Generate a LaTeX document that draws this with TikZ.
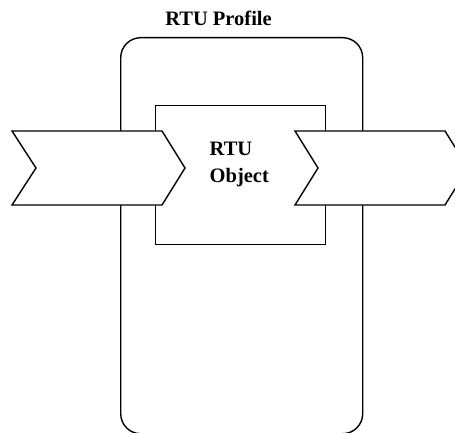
\documentclass[tikz,border=0pt]{standalone}
\usepackage{fontspec}
\setmainfont{Liberation Serif}
\usetikzlibrary{calc}
\definecolor{ink}{HTML}{000000}

\begin{document}
\begin{tikzpicture}[
  x=1pt,y=-1pt,draw=ink,text=ink,line width=1.4pt,
  box/.style={draw,fill=white,inner sep=0pt},
  lab/.style={font=\fontsize{20.5}{26}\selectfont\bfseries,align=left,inner sep=0pt},
  chev/.style={draw,fill=white,line join=miter}
]
\clip (0,0) rectangle (455,433);
\node[box,rounded corners=20pt,minimum width=242pt,minimum height=396pt,anchor=north west] (profile) at (120,37) {};
\node[box,minimum width=170pt,minimum height=139pt,anchor=north west] (object) at (155,105) {};
% flow in and out
\draw[chev] (12,131) -- (162,131) -- (185,168) -- (162,205) -- (12,205) -- (36,168) -- cycle;
\draw[chev] (295,131) -- (445,131) -- (468,168) -- (445,205) -- (295,205) -- (318,168) -- cycle;
\node[lab,anchor=base] (ptitle) at (218.5,26) {RTU Profile};
\node[lab,anchor=base west] (otitle) at (209,182) {RTU\\Object};
\end{tikzpicture}
\end{document}
